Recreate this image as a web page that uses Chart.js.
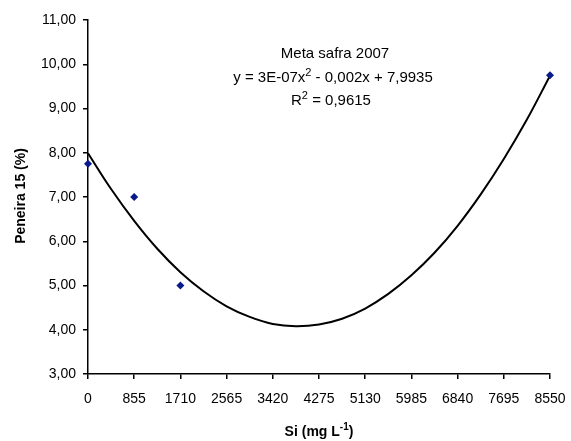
<!DOCTYPE html>
<html>
<head>
<meta charset="utf-8">
<script src="https://cdn.jsdelivr.net/npm/chart.js@4"></script>
<style>
  html, body { margin: 0; padding: 0; background: #fff; }
  #wrap { width: 571px; height: 441px; }
</style>
</head>
<body>
<div id="wrap"><canvas id="chart" width="571" height="441"></canvas></div>
<script>
// pontos observados
const siValues = [0, 855, 1710, 8550];
const peneiraValues = [7.75, 7.0, 5.0, 9.75];

// linha de tendência
const trendX = [0, 427.5, 855, 1282.5, 1710, 2137.5, 2565, 2992.5, 3420, 3847.5, 4275,
                4702.5, 5130, 5557.5, 5985, 6412.5, 6840, 7267.5, 7695, 8122.5, 8550];
const trendY = [7.99, 7.18, 6.46, 5.83, 5.30, 4.87, 4.53, 4.29, 4.13, 4.08, 4.12,
                4.25, 4.48, 4.81, 5.23, 5.74, 6.35, 7.06, 7.86, 8.75, 9.74];

// ticks do eixo x
const xTicks = [0, 855, 1710, 2565, 3420, 4275, 5130, 5985, 6840, 7695, 8550];

const FONT = 'Liberation Sans, Arial, sans-serif';

// textos extras: equação e títulos dos eixos
const textPlugin = {
    id: 'textos',
    afterDraw(chart) {
        const ctx = chart.ctx;
        ctx.save();
        ctx.fillStyle = '#000';
        ctx.textBaseline = 'alphabetic';

        // bloco da equação
        ctx.font = '15px ' + FONT;
        ctx.textAlign = 'center';
        ctx.fillText('Meta safra 2007', 335, 58);

        drawParts(ctx, [
            ['y = 3E-07x', 15, 0],
            ['2', 11, -6],
            [' - 0,002x + 7,9935', 15, 0]
        ], 333, 82, '');
        drawParts(ctx, [
            ['R', 15, 0],
            ['2', 11, -6],
            [' = 0,9615', 15, 0]
        ], 331, 105, '');

        // título eixo x
        drawParts(ctx, [
            ['Si (mg L', 14, 0],
            ['-1', 10, -6],
            [')', 14, 0]
        ], 319, 436, 'bold ');

        // título eixo y
        ctx.translate(25, 196);
        ctx.rotate(-Math.PI / 2);
        ctx.font = 'bold 14px ' + FONT;
        ctx.textAlign = 'center';
        ctx.fillText('Peneira 15 (%)', 0, 0);
        ctx.restore();
    }
};

function drawParts(ctx, parts, cx, y, weight) {
    let total = 0;
    parts.forEach(p => {
        ctx.font = weight + p[1] + 'px ' + FONT;
        total += ctx.measureText(p[0]).width;
    });
    let x = cx - total / 2;
    ctx.textAlign = 'left';
    parts.forEach(p => {
        ctx.font = weight + p[1] + 'px ' + FONT;
        ctx.fillText(p[0], x, y + p[2]);
        x += ctx.measureText(p[0]).width;
    });
}

new Chart(document.getElementById('chart'), {
    type: 'scatter',
    data: {
        datasets: [
            {
                label: 'Tendência',
                data: trendX.map((x, i) => ({ x: x, y: trendY[i] })),
                showLine: true,
                borderColor: '#000',
                borderWidth: 2,
                pointRadius: 0,
                tension: 0.4,
                fill: false,
                clip: false,
                order: 2
            },
            {
                label: 'Meta safra 2007',
                data: siValues.map((x, i) => ({ x: x, y: peneiraValues[i] })),
                pointStyle: 'rectRot',
                pointRadius: 4,
                backgroundColor: '#0a1a8a',
                borderColor: '#0a1a8a',
                borderWidth: 0,
                clip: false,
                order: 1
            }
        ]
    },
    options: {
        responsive: false,
        animation: false,
        layout: { padding: { left: 0, right: 21, top: 20, bottom: 0 } },
        plugins: {
            legend: { display: false },
            tooltip: { enabled: false }
        },
        scales: {
            x: {
                type: 'linear',
                min: 0,
                max: 8550,
                afterBuildTicks(scale) {
                    scale.ticks = xTicks.map(v => ({ value: v }));
                },
                afterFit(scale) {
                    scale.height = 67;
                    scale.paddingLeft = 0;
                    scale.paddingRight = 0;
                },
                grid: {
                    drawOnChartArea: false,
                    drawTicks: true,
                    tickLength: 5,
                    color: '#000',
                    lineWidth: 1.5
                },
                border: { color: '#000', width: 1.5 },
                ticks: {
                    color: '#000',
                    padding: 12,
                    maxRotation: 0,
                    autoSkip: false,
                    font: { family: FONT, size: 14 },
                    callback: v => String(v)
                }
            },
            y: {
                min: 3,
                max: 11,
                afterFit(scale) {
                    scale.width = 88;
                    scale.paddingTop = 0;
                    scale.paddingBottom = 0;
                },
                grid: {
                    drawOnChartArea: false,
                    drawTicks: true,
                    tickLength: 5,
                    color: '#000',
                    lineWidth: 1.5
                },
                border: { color: '#000', width: 1.5 },
                ticks: {
                    stepSize: 1,
                    color: '#000',
                    padding: 7,
                    font: { family: FONT, size: 14 },
                    callback: v => v.toFixed(2).replace('.', ',')
                }
            }
        }
    },
    plugins: [textPlugin]
});
</script>
</body>
</html>
